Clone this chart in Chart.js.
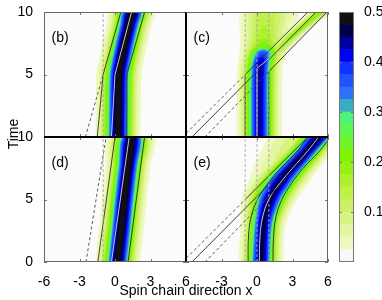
<!DOCTYPE html>
<html>
<head>
<meta charset="utf-8">
<title>Spin chain wave packets</title>
<script src="https://cdn.jsdelivr.net/npm/chart.js@4.4.1/dist/chart.umd.min.js"></script>
<style>
  html, body { margin: 0; padding: 0; background: #fff; }
  #fig { position: relative; width: 382px; height: 300px; overflow: hidden; }
  #fig canvas { position: absolute; left: 0; top: 0; }
  .txt { position: absolute; font: 14px "Liberation Sans", Arial, sans-serif; line-height: 16px;
         color: #000; white-space: nowrap; text-align: center; }
</style>
</head>
<body>
<div id="fig">
  <canvas id="panelB" width="382" height="300"></canvas>
  <canvas id="panelC" width="382" height="300"></canvas>
  <canvas id="panelD" width="382" height="300"></canvas>
  <canvas id="panelE" width="382" height="300"></canvas>
  <canvas id="colorbar" width="382" height="300"></canvas>
  <div class="txt" style="left:-9px; top:126px; width:44px; transform:rotate(-90deg);">Time</div>
  <div class="txt" style="left:86px; top:282px; width:200px;">Spin chain direction x</div>
</div>
<script>
// Axes
const xTicks = [-6, -3, 0, 3, 6];
const xTicksRight = [-3, 0, 3, 6];   // (e) leaves -6 to (d)
const tTicks = [0, 5, 10];
const tTicksTop = [5, 10];           // (b) leaves 0 to (d)
const barTicks = [0.1, 0.2, 0.3, 0.4, 0.5];
const sites = [-1, 0, 1];            // dashed guides

// Colour bar: lower edge of each contour band and its colour
const levels = [0.025, 0.05, 0.075, 0.1, 0.125, 0.15, 0.175, 0.2, 0.225, 0.25,
                0.275, 0.3, 0.325, 0.35, 0.375, 0.4, 0.425, 0.45, 0.475];
const levelColors = ['#eef9c0', '#e4f6a2', '#d8f284', '#ccf068', '#c0f04a', '#acf02e', '#96f014',
                     '#7ef400', '#6ef628', '#5ef650', '#4cf47c', '#3cacc4', '#2e72fa', '#2052ff',
                     '#1034ff', '#0000f4', '#00009a', '#000048', '#101010'];
const bandColors = ['#f8f8f8'].concat(levelColors);
const bandSize = 0.025;

// (b) packet: time, centre, peak density, width
const bTime   = [0, 2.5, 5, 6, 7, 8, 9, 10];
const bCentre = [0.25, 0.28, 0.33, 0.5, 0.72, 0.95, 1.2, 1.45];
const bPeak   = [0.49, 0.49, 0.49, 0.49, 0.49, 0.49, 0.49, 0.49];
const bWidth  = [0.78, 0.78, 0.78, 0.78, 0.78, 0.78, 0.78, 0.78];

// (d) packet
const dTime   = [0, 2.6, 5.2, 7.7, 10];
const dCentre = [0.22, 0.52, 0.8, 1.1, 1.4];
const dPeak   = [0.49, 0.49, 0.49, 0.49, 0.49];
const dWidth  = [0.78, 0.78, 0.78, 0.78, 0.78];

// (c) packet that breaks up, plus the faint part running off to the right
const cTime   = [0, 2, 4, 5.5, 6.2, 6.8, 7.3, 8, 9, 10];
const cCentre = [0.2, 0.2, 0.2, 0.25, 0.35, 0.5, 0.55, 0.55, 0.6, 0.7];
const cPeak   = [0.44, 0.44, 0.44, 0.44, 0.42, 0.36, 0.22, 0.17, 0.15, 0.14];
const cLeft   = [0.8, 0.8, 0.8, 0.8, 0.8, 0.85, 0.95, 1.0, 1.1, 1.1];
const cRight  = [0.8, 0.8, 0.8, 0.8, 0.85, 0.9, 1.0, 1.2, 1.4, 1.5];
const c2Time   = [5.8, 6.5, 7, 8, 9, 10];
const c2Centre = [0.9, 1.3, 1.9, 2.9, 4.1, 5.4];
const c2Peak   = [0.06, 0.12, 0.16, 0.19, 0.19, 0.19];
const c2Width  = [0.5, 0.45, 0.45, 0.45, 0.45, 0.45];

// (e) packet that turns right, plus its faint tail
const eTime   = [0, 3, 5, 6, 7, 8, 9, 10];
const eCentre = [0.35, 0.55, 1.1, 1.7, 2.45, 3.4, 4.35, 5.2];
const ePeak   = [0.46, 0.46, 0.46, 0.46, 0.46, 0.46, 0.46, 0.46];
const eLeft   = [0.8, 0.8, 1.0, 1.1, 1.1, 1.05, 1.0, 0.9];
const eRight  = [0.78, 0.78, 0.95, 1.0, 1.0, 0.95, 0.9, 0.85];
const e2Time   = [3, 5, 7, 9, 10];
const e2Centre = [0.3, 0.6, 1.3, 2.4, 3.1];
const e2Peak   = [0.04, 0.07, 0.08, 0.08, 0.08];
const e2Width  = [0.9, 1.1, 1.2, 1.3, 1.3];

// Trajectory lines, [x, t] pairs
const bEdgeLeft  = [[-1.5, 0], [-1, 5], [0.5, 10]];
const bEdgeRight = [[1, 0], [1, 5], [2.5, 10]];
const bMid       = [[-0.3, 0], [0, 5], [1.4, 10]];
const bBack      = [[-2.5, 0], [-1, 5]];

const dEdgeLeft  = [[-1.45, 0], [0, 10]];
const dEdgeRight = [[1.1, 0], [2.5, 10]];
const dMid       = [[-0.3, 0], [1.2, 10]];
const dBack      = [[-2.45, 0], [-0.75, 10]];

const rayA = [[-6.3, 0], [-1, 5.0], [4.3, 10]];
const rayB = [[-5.5, 0], [5.0, 10]];
const rayC = [[-4.4, 0], [1, 5.24], [5.9, 10]];
const cWallLeft  = [[-1, 0], [-1, 5.0]];
const cWallRight = [[1, 0], [1, 5.24]];
const cMid       = [[0, 0], [0, 5.5], [5.9, 10]];

const eEdgeLeft  = [[-0.75, 0], [-0.72, 2], [-0.5, 3.6], [0.05, 5], [0.9, 6.26], [2.0, 7.5], [3.44, 8.9], [4.3, 10]];
const eEdgeRight = [[1.35, 0], [1.4, 2], [1.6, 3.6], [2.1, 5], [2.9, 6.26], [3.9, 7.5], [5.3, 8.9], [6.2, 10]];
const eMid       = [[0.2, 0], [0.25, 2], [0.48, 3.6], [1.0, 5], [1.9, 6.26], [3.0, 7.5], [4.3, 8.9], [5.2, 10]];

const W = 382, H = 300, Y_AXIS_W = 30, X_AXIS_H = 24, BAR_AXIS_W = 28;
const FONT = '"Liberation Sans", Arial, sans-serif';
Chart.defaults.font.family = FONT;
Chart.defaults.font.size = 14;
Chart.defaults.color = '#000';

function packet(time, centre, peak, left, right) {
  return { time, centre, peak, left, right: right || left };
}

// point where the peak crosses level v between two rows
function apex(p, a, b, v) {
  const f = (v - p.peak[a]) / (p.peak[b] - p.peak[a]);
  return { x: p.centre[a] + f * (p.centre[b] - p.centre[a]), y: p.time[a] + f * (p.time[b] - p.time[a]) };
}

// outline of the region where the packet density is above v
function contour(p, v) {
  const idx = [];
  p.time.forEach((t, i) => { if (p.peak[i] > v) idx.push(i); });
  if (!idx.length) return null;
  const i0 = idx[0], i1 = idx[idx.length - 1], n = p.time.length;
  const left = [], right = [];
  for (let i = i0; i <= i1; i++) {
    const k = Math.sqrt(2 * Math.log(p.peak[i] / v));
    left.push({ x: p.centre[i] - p.left[i] * k, y: p.time[i] });
    right.push({ x: p.centre[i] + p.right[i] * k, y: p.time[i] });
  }
  const pts = [];
  if (i0 > 0) pts.push(apex(p, i0 - 1, i0, v));
  pts.push(...left);
  if (i1 < n - 1) pts.push(apex(p, i1, i1 + 1, v));
  pts.push(...right.reverse());
  return pts;
}

function contourSets(packets) {
  const sets = [];
  levels.forEach((v, k) => {
    packets.forEach(p => {
      const pts = contour(p, v);
      if (!pts) return;
      sets.push({ data: pts, fill: 'shape', backgroundColor: levelColors[k], borderColor: 'rgba(0,0,0,0)',
                  borderWidth: 0, pointRadius: 0, tension: 0.3, order: 1000 - k });
    });
  });
  return sets;
}

const edgeStyle  = { borderColor: '#2b2b2b', borderWidth: 0.9 };
const backStyle  = { borderColor: '#4a4a4a', borderWidth: 0.9, borderDash: [3, 2.5] };
const guideStyle = { borderColor: '#a8a8a8', borderWidth: 0.9, borderDash: [3, 2] };
const midStyle   = { borderColor: '#dadada', borderWidth: 0.9 };

function line(pairs, style, tension) {
  return Object.assign({ data: pairs.map(p => ({ x: p[0], y: p[1] })), fill: false, pointRadius: 0,
                         tension: tension || 0, order: 0 }, style);
}

function guides(xs) {
  return xs.map(x => line([[x, 0], [x, 10]], guideStyle));
}

function framePlugin(c) {
  return {
    id: 'frame',
    beforeDraw(chart) {
      const a = chart.chartArea, ctx = chart.ctx;
      ctx.save();
      ctx.fillStyle = '#fbfbfb';
      ctx.fillRect(a.left, a.top, a.right - a.left, a.bottom - a.top);
      ctx.restore();
    },
    afterDraw(chart) {
      const a = chart.chartArea, ctx = chart.ctx, sx = chart.scales.x, sy = chart.scales.y;
      ctx.save();
      ctx.strokeStyle = '#777';
      ctx.lineWidth = 1;
      ctx.beginPath();
      xTicks.forEach(v => {
        const px = Math.round(sx.getPixelForValue(v)) + 0.5;
        ctx.moveTo(px, a.top); ctx.lineTo(px, a.top + 3);
        ctx.moveTo(px, a.bottom); ctx.lineTo(px, a.bottom - 3);
      });
      tTicks.forEach(v => {
        const py = Math.round(sy.getPixelForValue(v)) + 0.5;
        ctx.moveTo(a.left, py); ctx.lineTo(a.left + 3, py);
        ctx.moveTo(a.right, py); ctx.lineTo(a.right - 3, py);
      });
      ctx.stroke();
      const sides = {
        left:   [a.left + 0.5, a.top, a.left + 0.5, a.bottom, a.left],
        right:  [a.right - 0.5, a.top, a.right - 0.5, a.bottom, a.right],
        top:    [a.left, a.top + 0.5, a.right, a.top + 0.5, a.top],
        bottom: [a.left, a.bottom - 0.5, a.right, a.bottom - 0.5, a.bottom]
      };
      Object.keys(sides).forEach(s => {
        const e = sides[s], inner = c.inner.includes(s);
        ctx.beginPath();
        if (inner) {
          const vert = s === 'left' || s === 'right';
          if (vert) { ctx.moveTo(e[4], a.top); ctx.lineTo(e[4], a.bottom); }
          else { ctx.moveTo(a.left, e[4]); ctx.lineTo(a.right, e[4]); }
        } else {
          ctx.moveTo(e[0], e[1]); ctx.lineTo(e[2], e[3]);
        }
        ctx.lineWidth = inner ? 2 : 1;
        ctx.strokeStyle = inner ? '#000' : '#666';
        ctx.stroke();
      });
      ctx.fillStyle = '#000';
      ctx.font = '14px ' + FONT;
      ctx.fillText(c.name, a.left + 7.5, a.top + 30);
      ctx.restore();
    }
  };
}

function makePanel(id, c) {
  const datasets = contourSets(c.packets).concat(c.lines);
  const pad = {
    left: c.area.l - (c.tLabels ? Y_AXIS_W : 0),
    right: W - c.area.r,
    top: c.area.t,
    bottom: H - c.area.b - (c.xLabels ? X_AXIS_H : 0)
  };
  return new Chart(document.getElementById(id), {
    type: 'line',
    data: { datasets },
    options: {
      responsive: false, animation: false, devicePixelRatio: 1, events: [],
      layout: { padding: pad },
      plugins: { legend: { display: false }, tooltip: { enabled: false } },
      scales: {
        x: {
          type: 'linear', min: -6, max: 6, display: !!c.xLabels,
          grid: { display: false }, border: { display: false },
          ticks: { padding: 4, maxRotation: 0, autoSkip: false, callback: v => String(v) },
          afterBuildTicks: s => { s.ticks = (c.xLabels || xTicks).map(v => ({ value: v })); },
          afterFit: s => { if (c.xLabels) s.height = X_AXIS_H; }
        },
        y: {
          type: 'linear', min: 0, max: 10, position: 'left', display: !!c.tLabels,
          grid: { display: false }, border: { display: false },
          ticks: { padding: 3, autoSkip: false, callback: v => String(v) },
          afterBuildTicks: s => { s.ticks = (c.tLabels || tTicks).map(v => ({ value: v })); },
          afterFit: s => { if (c.tLabels) s.width = Y_AXIS_W; }
        }
      }
    },
    plugins: [framePlugin(c)]
  });
}

makePanel('panelB', {
  name: '(b)', area: { l: 44, r: 186, t: 12, b: 137 }, inner: ['right', 'bottom'],
  tLabels: tTicksTop, xLabels: null,
  packets: [packet(bTime, bCentre, bPeak, bWidth)],
  lines: guides([-1]).concat([
    line(bBack, backStyle), line(bEdgeLeft, edgeStyle), line(bEdgeRight, edgeStyle), line(bMid, midStyle)
  ])
});

makePanel('panelC', {
  name: '(c)', area: { l: 186, r: 328, t: 12, b: 137 }, inner: ['left', 'bottom'],
  tLabels: null, xLabels: null,
  packets: [packet(cTime, cCentre, cPeak, cLeft, cRight), packet(c2Time, c2Centre, c2Peak, c2Width)],
  lines: guides(sites).concat([
    line(rayA.slice(0, 2), backStyle), line(rayA.slice(1), edgeStyle),
    line(rayC.slice(0, 2), backStyle), line(rayC.slice(1), edgeStyle),
    line(rayB, edgeStyle),
    line(cWallLeft, edgeStyle), line(cWallRight, edgeStyle), line(cMid, midStyle)
  ])
});

makePanel('panelD', {
  name: '(d)', area: { l: 44, r: 186, t: 137, b: 262 }, inner: ['top', 'right'],
  tLabels: tTicks, xLabels: xTicks,
  packets: [packet(dTime, dCentre, dPeak, dWidth)],
  lines: guides([-1]).concat([
    line(dBack, backStyle), line(dEdgeLeft, edgeStyle), line(dEdgeRight, edgeStyle), line(dMid, midStyle)
  ])
});

makePanel('panelE', {
  name: '(e)', area: { l: 186, r: 328, t: 137, b: 262 }, inner: ['top', 'left'],
  tLabels: null, xLabels: xTicksRight,
  packets: [packet(eTime, eCentre, ePeak, eLeft, eRight), packet(e2Time, e2Centre, e2Peak, e2Width)],
  lines: guides(sites).concat([
    line(rayA.slice(0, 2), backStyle), line(rayA.slice(1), edgeStyle),
    line(rayC.slice(0, 2), backStyle), line(rayC.slice(1), edgeStyle),
    line(rayB, edgeStyle),
    line(eEdgeLeft, edgeStyle, 0.4), line(eEdgeRight, edgeStyle, 0.4), line(eMid, midStyle, 0.4)
  ])
});

// Colour bar
const barFrame = {
  id: 'barFrame',
  afterDraw(chart) {
    const a = chart.chartArea, ctx = chart.ctx, sy = chart.scales.y;
    ctx.save();
    ctx.strokeStyle = '#777';
    ctx.lineWidth = 1;
    ctx.strokeRect(a.left + 0.5, a.top + 0.5, a.right - a.left - 1, a.bottom - a.top - 1);
    ctx.beginPath();
    barTicks.slice(0, -1).forEach(v => {
      const py = Math.round(sy.getPixelForValue(v)) + 0.5;
      ctx.moveTo(a.left, py); ctx.lineTo(a.left + 3, py);
      ctx.moveTo(a.right, py); ctx.lineTo(a.right - 3, py);
    });
    ctx.stroke();
    ctx.restore();
  }
};

new Chart(document.getElementById('colorbar'), {
  type: 'bar',
  data: {
    labels: [''],
    datasets: bandColors.map(col => ({ data: [bandSize], backgroundColor: col, borderWidth: 0,
                                       barPercentage: 1, categoryPercentage: 1 }))
  },
  options: {
    responsive: false, animation: false, devicePixelRatio: 1, events: [],
    layout: { padding: { left: 339, right: W - 354 - BAR_AXIS_W, top: 12, bottom: H - 262 } },
    plugins: { legend: { display: false }, tooltip: { enabled: false } },
    scales: {
      x: { stacked: true, display: false },
      y: {
        stacked: true, min: 0, max: 0.5, position: 'right',
        grid: { display: false }, border: { display: false },
        ticks: { padding: 2, callback: v => v.toFixed(1) },
        afterBuildTicks: s => { s.ticks = barTicks.map(v => ({ value: v })); },
        afterFit: s => { s.width = BAR_AXIS_W; }
      }
    }
  },
  plugins: [barFrame]
});
</script>
</body>
</html>
